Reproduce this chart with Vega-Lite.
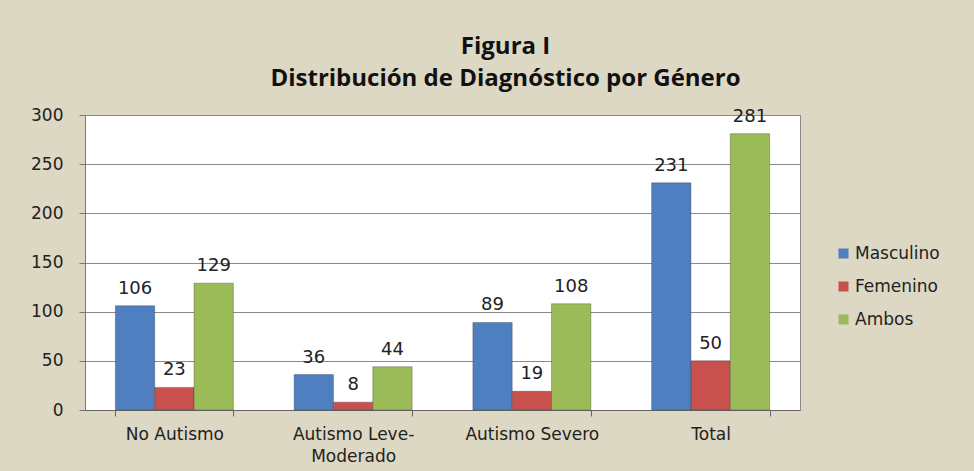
{
  "$schema": "https://vega.github.io/schema/vega-lite/v6.json",
  "width": 715,
  "height": 295,
  "autosize": {"type": "none"},
  "padding": {"left": 85, "top": 115, "right": 174, "bottom": 61},
  "background": "#DDD8C4",
  "title": {
    "text": ["Figura I", "Distribución de Diagnóstico por Género"],
    "font": "Open Sans",
    "fontSize": 24,
    "fontWeight": "bold",
    "color": "#111",
    "lineHeight": 32,
    "anchor": "middle",
    "dx": 63,
    "offset": 15
  },
  "data": {
    "values": [
      {"categoria": "No Autismo", "genero": "Masculino", "valor": 106},
      {"categoria": "No Autismo", "genero": "Femenino", "valor": 23},
      {"categoria": "No Autismo", "genero": "Ambos", "valor": 129},
      {"categoria": "Autismo Leve-Moderado", "genero": "Masculino", "valor": 36},
      {"categoria": "Autismo Leve-Moderado", "genero": "Femenino", "valor": 8},
      {"categoria": "Autismo Leve-Moderado", "genero": "Ambos", "valor": 44},
      {"categoria": "Autismo Severo", "genero": "Masculino", "valor": 89},
      {"categoria": "Autismo Severo", "genero": "Femenino", "valor": 19},
      {"categoria": "Autismo Severo", "genero": "Ambos", "valor": 108},
      {"categoria": "Total", "genero": "Masculino", "valor": 231},
      {"categoria": "Total", "genero": "Femenino", "valor": 50},
      {"categoria": "Total", "genero": "Ambos", "valor": 281}
    ]
  },
  "encoding": {
    "x": {
      "field": "categoria",
      "type": "nominal",
      "sort": null,
      "title": null,
      "scale": {"paddingInner": 0.34, "paddingOuter": 0.17},
      "axis": {
        "labelAngle": 0,
        "labelFont": "DejaVu Sans",
        "labelFontSize": 17,
        "labelColor": "#222",
        "labelPadding": 10,
        "labelExpr": "datum.value == 'Autismo Leve-Moderado' ? ['Autismo Leve-', 'Moderado'] : datum.value",
        "labelLineHeight": 22,
        "tickBand": "extent",
        "tickSize": 6,
        "tickColor": "#666",
        "domainColor": "#666",
        "grid": false
      }
    },
    "xOffset": {"field": "genero", "type": "nominal", "sort": ["Masculino", "Femenino", "Ambos"]},
    "y": {
      "field": "valor",
      "type": "quantitative",
      "title": null,
      "scale": {"domain": [0, 300], "nice": false},
      "axis": {
        "values": [0, 50, 100, 150, 200, 250, 300],
        "labelFont": "DejaVu Sans",
        "labelFontSize": 17,
        "labelColor": "#222",
        "labelPadding": 16,
        "tickSize": 6,
        "tickColor": "#777",
        "domainColor": "#777",
        "gridColor": "#8a8a8a",
        "gridWidth": 1
      }
    },
    "color": {
      "field": "genero",
      "type": "nominal",
      "sort": ["Masculino", "Femenino", "Ambos"],
      "scale": {"domain": ["Masculino", "Femenino", "Ambos"], "range": ["#4F7FC0", "#C8504D", "#9BBB59"]},
      "legend": {
        "title": null,
        "orient": "none",
        "legendX": 750,
        "legendY": 130,
        "symbolType": "square",
        "symbolSize": 100,
        "symbolStrokeWidth": 0,
        "labelFont": "DejaVu Sans",
        "labelFontSize": 17,
        "labelColor": "#222",
        "labelOffset": 3,
        "rowPadding": 15
      }
    }
  },
  "layer": [
    {"mark": {"type": "bar", "stroke": "#3a3a3a", "strokeOpacity": 0.35, "strokeWidth": 1}},
    {
      "mark": {"type": "text", "baseline": "bottom", "dy": -8, "font": "DejaVu Sans", "fontSize": 18, "color": "#222"},
      "encoding": {"text": {"field": "valor", "type": "quantitative"}, "color": {"value": "#222"}}
    }
  ],
  "config": {
    "view": {"fill": "white", "stroke": "#888", "strokeWidth": 1}
  }
}
